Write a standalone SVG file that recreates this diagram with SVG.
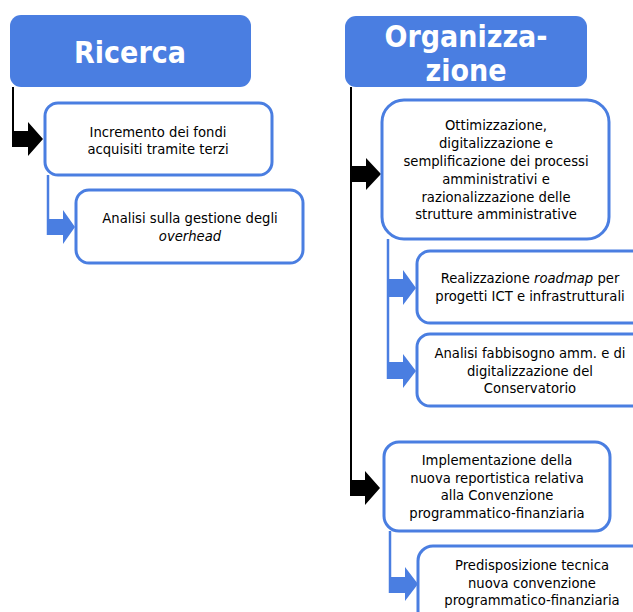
<svg xmlns="http://www.w3.org/2000/svg" width="633" height="612" viewBox="0 0 633 612">
<style>
.hdr{fill:#4A7EE1}
.ht{font-family:"DejaVu Sans Condensed","Liberation Sans",sans-serif;font-weight:bold;font-size:30px;fill:#fff;text-anchor:middle}
.box{fill:#fff;stroke:#4A7EE1;stroke-width:3}
.t{font-family:"DejaVu Sans",sans-serif;font-size:13.2px;fill:#000;text-anchor:middle}
.blk{fill:#000}
.blu{fill:#4A7EE1}
.bl{stroke:#000;stroke-width:2;fill:none}
.ul{stroke:#4A7EE1;stroke-width:2.5;fill:none}
</style>
<g id="connectors">
<line class="bl" x1="13" y1="87" x2="13" y2="140"/>
<polygon class="blk" points="12,131 28,131 28,122 43,139 28,156 28,147 12,147"/>
<line class="ul" x1="48" y1="175" x2="48" y2="235"/>
<polygon class="blu" points="47,219 63,219 63,210 75,227 63,244 63,235 47,235"/>
<line class="bl" x1="351" y1="87" x2="351" y2="490"/>
<polygon class="blk" points="350,166 366,166 366,158 381,174 366,190 366,182 350,182"/>
<polygon class="blk" points="350,480 365,480 365,471 380,488 365,505 365,496 350,496"/>
<line class="ul" x1="388" y1="239" x2="388" y2="379"/>
<polygon class="blu" points="387,279 403,279 403,270 416,288 403,305 403,297 387,297"/>
<polygon class="blu" points="387,362 403,362 403,354 416,371 403,388 403,379 387,379"/>
<line class="ul" x1="390" y1="531" x2="390" y2="593"/>
<polygon class="blu" points="389,577 405,577 405,567 418,584 405,601 405,593 389,593"/>
</g>
<g id="ricerca">
<rect class="hdr" x="10" y="15" width="241" height="72" rx="11"/>
<text class="ht" x="130" y="63">Ricerca</text>
</g>
<g id="organizzazione">
<rect class="hdr" x="345" y="16" width="242" height="71" rx="11"/>
<text class="ht" x="466" y="47">Organizza-</text>
<text class="ht" x="466" y="81">zione</text>
</g>
<g id="n1">
<rect class="box" x="45" y="103" width="227" height="72" rx="13"/>
<text class="t" x="158" y="137">Incremento dei fondi</text>
<text class="t" x="158" y="154">acquisiti tramite terzi</text>
</g>
<g id="n2">
<rect class="box" x="76" y="190" width="227" height="73" rx="13"/>
<text class="t" x="190" y="223">Analisi sulla gestione degli</text>
<text class="t" x="190" y="241" font-style="italic">overhead</text>
</g>
<g id="n3">
<rect class="box" x="382" y="100" width="227" height="139" rx="22"/>
<text class="t" x="496" y="130">Ottimizzazione,</text>
<text class="t" x="496" y="148">digitalizzazione e</text>
<text class="t" x="496" y="166">semplificazione dei processi</text>
<text class="t" x="496" y="184">amministrativi e</text>
<text class="t" x="496" y="202">razionalizzazione delle</text>
<text class="t" x="496" y="219">strutture amministrative</text>
</g>
<g id="n4">
<rect class="box" x="417" y="251" width="240" height="72" rx="13"/>
<text class="t" x="530" y="283">Realizzazione <tspan font-style="italic">roadmap</tspan> per</text>
<text class="t" x="530" y="301">progetti ICT e infrastrutturali</text>
</g>
<g id="n5">
<rect class="box" x="417" y="334" width="240" height="72" rx="13"/>
<text class="t" x="530" y="358">Analisi fabbisogno amm. e di</text>
<text class="t" x="530" y="376">digitalizzazione del</text>
<text class="t" x="530" y="393">Conservatorio</text>
</g>
<g id="n6">
<rect class="box" x="384" y="442" width="226" height="89" rx="15"/>
<text class="t" x="497" y="465">Implementazione della</text>
<text class="t" x="497" y="483">nuova reportistica relativa</text>
<text class="t" x="497" y="500">alla Convenzione</text>
<text class="t" x="497" y="518">programmatico-finanziaria</text>
</g>
<g id="n7">
<rect class="box" x="418" y="546" width="240" height="80" rx="15"/>
<text class="t" x="532" y="570">Predisposizione tecnica</text>
<text class="t" x="532" y="588">nuova convenzione</text>
<text class="t" x="532" y="605">programmatico-finanziaria</text>
</g>
</svg>
